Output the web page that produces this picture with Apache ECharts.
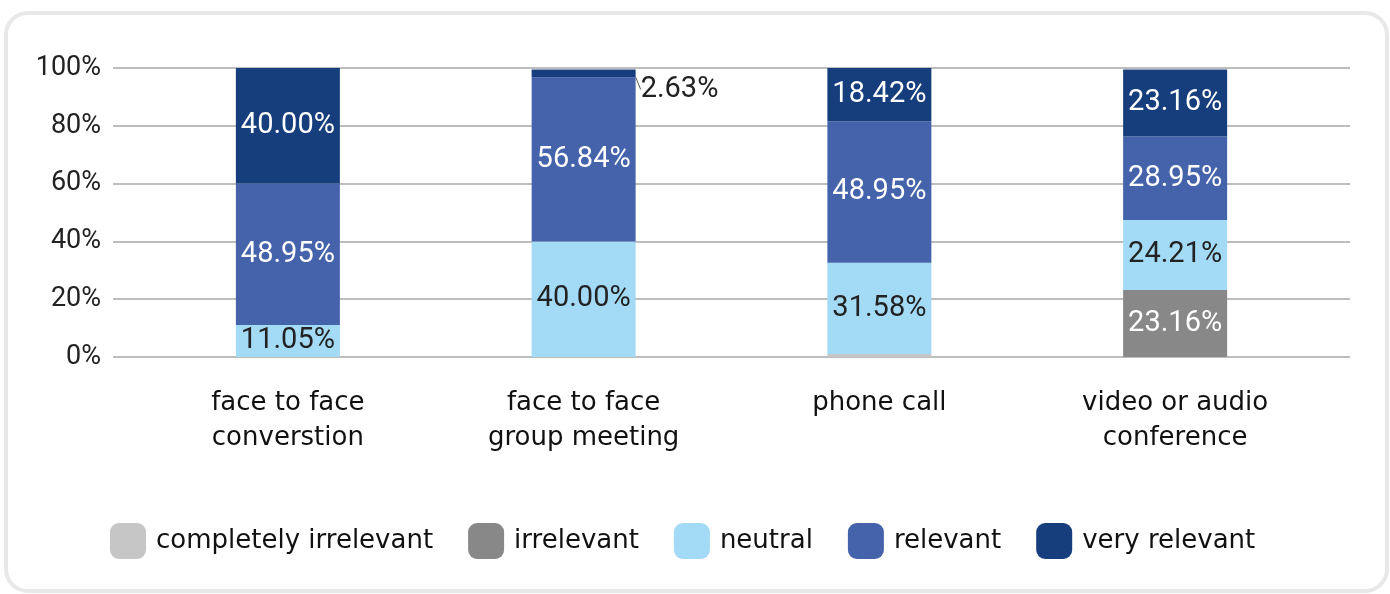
<!DOCTYPE html>
<html>
<head>
<meta charset="utf-8">
<script src="https://cdn.jsdelivr.net/npm/echarts@6/dist/echarts.min.js"></script>
<style>
  html, body { margin: 0; padding: 0; background: #fff; }
  #chart { width: 1390px; height: 594px; }
</style>
</head>
<body>
<div id="chart"></div>
<script>
  // categories and series (percent of respondents)
  const categories = ['face to face\nconverstion', 'face to face\ngroup meeting', 'phone call', 'video or audio\nconference'];
  const seriesNames = ['completely irrelevant', 'irrelevant', 'neutral', 'relevant', 'very relevant'];
  const completelyIrrelevant = [0, 0, 1.05, 0];
  const irrelevant = [0, 0, 0, 23.16];
  const neutral = [11.05, 40.00, 31.58, 24.21];
  const relevant = [48.95, 56.84, 48.95, 28.95];
  const veryRelevant = [40.00, 2.63, 18.42, 23.16];
  const yTicks = [0, 20, 40, 60, 80, 100];

  const colors = ['#c6c6c6', '#888888', '#a3daf6', '#4563ab', '#163e7c'];
  const labelColors = ['#222', '#fff', '#222', '#fff', '#fff'];
  const values = [completelyIrrelevant, irrelevant, neutral, relevant, veryRelevant];

  const myChart = echarts.init(document.getElementById('chart'));

  const series = seriesNames.map((name, i) => ({
    name: name,
    type: 'bar',
    stack: 'total',
    barWidth: 104,
    itemStyle: { color: colors[i] },
    label: {
      show: i > 0,
      position: 'inside',
      color: labelColors[i],
      fontFamily: 'Roboto',
      fontSize: 29,
      formatter: p => (p.value > 0 && !(i === 4 && p.dataIndex === 1)) ? p.value.toFixed(2) + '%' : ''
    },
    labelLine: { show: false },
    data: values[i].map((v, j) => {
      // the thin top slice of the group meeting bar has its label outside
      if (i === 4 && j === 1) {
        return {
          value: v,
          label: {
            show: true,
            position: 'right',
            color: '#222',
            formatter: p => p.value.toFixed(2) + '%'
          },
          labelLine: { show: true, lineStyle: { color: '#555', width: 1 } }
        };
      }
      return v;
    })
  }));

  const option = {
    backgroundColor: '#fff',
    animation: false,
    graphic: [{
      type: 'rect',
      shape: { x: 6, y: 13, width: 1381, height: 578, r: 22 },
      style: { fill: 'none', stroke: '#e8e8e8', lineWidth: 4 },
      silent: true
    }],
    grid: [
      { left: 140, right: 67, top: 68, bottom: 237 },
      // wider grid that only carries the y axis and its gridlines
      { left: 113, right: 40, top: 68, bottom: 237 }
    ],
    legend: {
      data: seriesNames,
      left: 105,
      top: 518,
      icon: 'roundRect',
      itemWidth: 36,
      itemHeight: 36,
      itemGap: 35,
      textStyle: { fontFamily: 'DejaVu Sans', fontSize: 26, color: '#111', padding: [0, 0, 0, 5] }
    },
    xAxis: [
      {
        type: 'category',
        data: categories,
        axisTick: { show: false },
        axisLine: { show: false },
        axisLabel: {
          color: '#111',
          fontFamily: 'DejaVu Sans',
          fontSize: 26,
          lineHeight: 35,
          margin: 29,
          verticalAlign: 'top'
        }
      },
      { type: 'value', gridIndex: 1, show: false, min: 0, max: 1 }
    ],
    yAxis: [
      { type: 'value', min: 0, max: 100, show: false },
      {
        type: 'value',
        gridIndex: 1,
        min: yTicks[0],
        max: yTicks[yTicks.length - 1],
        interval: 20,
        axisLine: { show: false },
        axisTick: { show: false },
        splitLine: { lineStyle: { color: '#bdbdbd', width: 2 } },
        axisLabel: {
          color: '#222',
          fontFamily: 'Roboto',
          fontSize: 27,
          margin: 12,
          formatter: '{value}%'
        }
      }
    ],
    labelLayout: function (params) {
      if (params.seriesIndex === 4 && params.dataIndex === 1) {
        return { dx: 0, dy: 16 };
      }
    },
    series: series
  };

  myChart.setOption(option);
  window.addEventListener('resize', () => { myChart.resize() });
</script>
</body>
</html>
